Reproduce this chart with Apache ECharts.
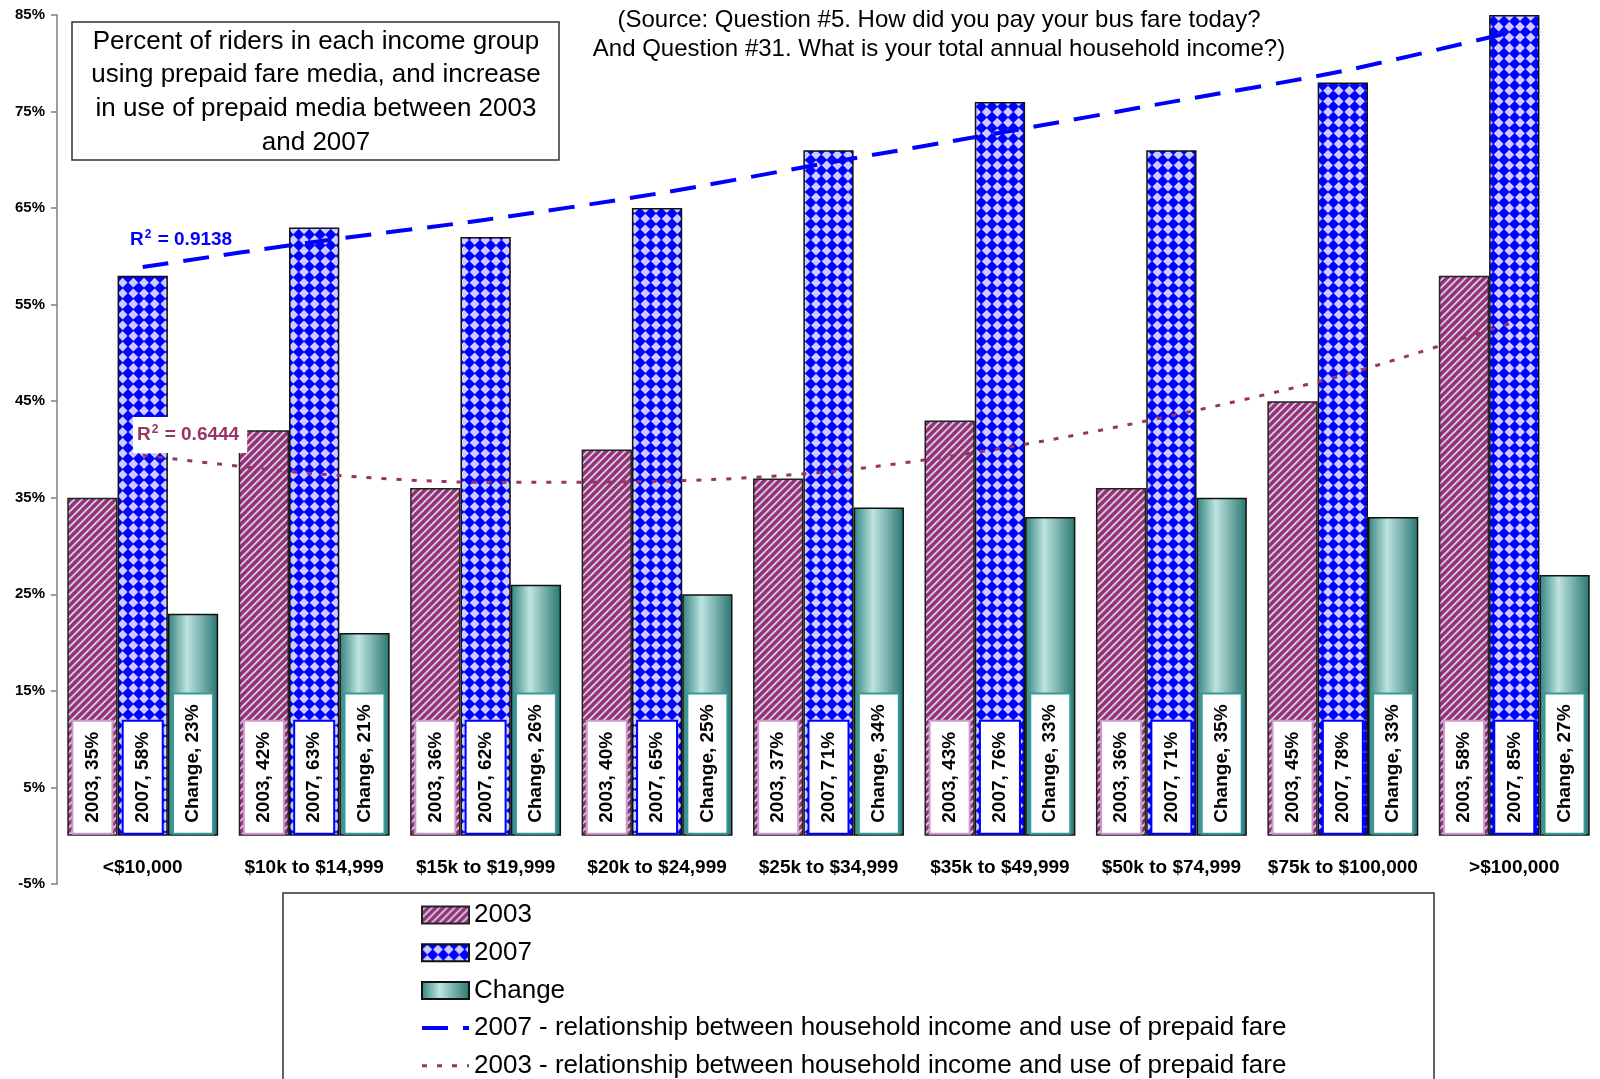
<!DOCTYPE html>
<html>
<head>
<meta charset="utf-8">
<script src="https://cdn.jsdelivr.net/npm/echarts@6/dist/echarts.min.js"></script>
<style>
  html, body { margin: 0; padding: 0; background: #fff; }
  #chart { width: 1600px; height: 1079px; }
</style>
</head>
<body>
<div id="chart"></div>
<script>
// Income groups and prepaid fare media share (percent)
const categories = ['<$10,000', '$10k to $14,999', '$15k to $19,999', '$20k to $24,999',
  '$25k to $34,999', '$35k to $49,999', '$50k to $74,999', '$75k to $100,000', '>$100,000'];
const share2003 = [35, 42, 36, 40, 37, 43, 36, 45, 58];
const share2007 = [58, 63, 62, 65, 71, 76, 71, 78, 85];
const changeShare = [23, 21, 26, 25, 34, 33, 35, 33, 27];
// Fitted trend curves, read at each income group
const trend2007 = [58.9, 61.5, 63.8, 66.5, 69.7, 72.8, 76.0, 79.2, 83.3];
const trend2003 = [39.4, 37.5, 36.6, 36.7, 37.7, 40.1, 43.5, 47.7, 53.2];
const r2Text2007 = '0.9138';
const r2Text2003 = '0.6444';
const axisMin = -5, axisMax = 85, axisStep = 10;

const seriesNames = ['2003', '2007', 'Change',
  '2007 - relationship between household income and use of prepaid fare',
  '2003 - relationship between household income and use of prepaid fare'];

const FONT = '"Liberation Sans", Arial, sans-serif';
const MAUVE = '#993366', LAVENDER = '#ccccff', BLUE = '#0000ff';

// Plot area geometry
const GRID_TOP = 15, GRID_BOTTOM = 195, GRID_HEIGHT = 1079 - GRID_TOP - GRID_BOTTOM;
// lift the category labels from the plot bottom up to the zero line
const zeroLift = (0 - axisMin) / (axisMax - axisMin) * GRID_HEIGHT;

const line2007Style = { color: BLUE, width: 4, type: [26, 15] };
const line2003Style = { color: MAUVE, width: 3, type: [5, 10] };

// Diagonal stripe fill for the 2003 bars
function stripePattern() {
  const s = 15, step = 7.5;
  const c = document.createElement('canvas');
  c.width = s; c.height = s;
  const g = c.getContext('2d');
  g.fillStyle = LAVENDER; g.fillRect(0, 0, s, s);
  g.strokeStyle = MAUVE; g.lineWidth = 3.4;
  for (let k = 0; k <= 4; k++) {
    const o = k * step;
    g.beginPath();
    g.moveTo(o + 3, -3);
    g.lineTo(o - s - 3, s + 3);
    g.stroke();
  }
  return c;
}

// Diamond fill for the 2007 bars
function diamondPattern() {
  const s = 32, n = 3, p = s / n, r = p * 0.46;
  const c = document.createElement('canvas');
  c.width = s; c.height = s;
  const g = c.getContext('2d');
  g.fillStyle = BLUE; g.fillRect(0, 0, s, s);
  g.fillStyle = LAVENDER;
  for (let i = 0; i < n; i++) {
    for (let j = 0; j < n; j++) {
      const cx = (i + 0.5) * p, cy = (j + 0.5) * p;
      g.beginPath();
      g.moveTo(cx, cy - r); g.lineTo(cx + r, cy); g.lineTo(cx, cy + r); g.lineTo(cx - r, cy);
      g.closePath(); g.fill();
    }
  }
  return c;
}

const tealGradient = {
  type: 'linear', x: 0, y: 0, x2: 1, y2: 0,
  colorStops: [
    { offset: 0, color: '#2f817c' },
    { offset: 0.38, color: '#bfe4e0' },
    { offset: 1, color: '#277570' }
  ]
};

function barLabel(border) {
  return {
    show: true,
    position: 'insideBottom',
    distance: 3,
    rotate: 90,
    align: 'left',
    verticalAlign: 'middle',
    formatter: '{a}, {c}%',
    fontFamily: FONT,
    fontSize: 19,
    fontWeight: 'bold',
    color: '#000',
    lineHeight: 22,
    backgroundColor: '#fff',
    borderColor: border,
    borderWidth: 2,
    padding: [8, 10, 8, 10]
  };
}

const chart = echarts.init(document.getElementById('chart'), null, { renderer: 'canvas' });

const barWidth = 50.3;

chart.setOption({
  animation: false,
  backgroundColor: '#fff',
  grid: { left: 57, top: GRID_TOP, bottom: GRID_BOTTOM, width: 1546, containLabel: false },
  xAxis: {
    type: 'category',
    data: categories,
    offset: -zeroLift,
    axisLine: { show: false, onZero: false },
    axisTick: { show: false },
    axisLabel: {
      margin: 23, interval: 0,
      fontFamily: FONT, fontSize: 19, fontWeight: 'bold', color: '#000'
    },
    splitLine: { show: false }
  },
  yAxis: {
    type: 'value',
    min: axisMin, max: axisMax, interval: axisStep,
    axisLine: { show: true, lineStyle: { color: '#808080', width: 1.5 } },
    axisTick: { show: true, length: 6, lineStyle: { color: '#808080', width: 1.5 } },
    axisLabel: {
      margin: 12, formatter: '{value}%',
      fontFamily: FONT, fontSize: 15, fontWeight: 'bold', color: '#000'
    },
    splitLine: { show: false }
  },
  legend: {
    orient: 'vertical',
    left: 420, top: 902,
    height: 300,
    padding: 0,
    itemWidth: 47, itemHeight: 17, itemGap: 11.7,
    selectedMode: false,
    textStyle: { fontFamily: FONT, fontSize: 26, color: '#000', lineHeight: 24 },
    data: [
      { name: seriesNames[0], icon: 'rect' },
      { name: seriesNames[1], icon: 'rect' },
      { name: seriesNames[2], icon: 'rect' },
      { name: seriesNames[3], itemStyle: { opacity: 0 }, lineStyle: line2007Style },
      { name: seriesNames[4], itemStyle: { opacity: 0 }, lineStyle: line2003Style }
    ]
  },
  series: [
    {
      name: seriesNames[0], type: 'bar', data: share2003,
      barWidth: barWidth, barGap: '0%',
      itemStyle: { color: { image: stripePattern(), repeat: 'repeat' }, borderColor: '#222', borderWidth: 1.5 },
      label: barLabel('#cc99cc')
    },
    {
      name: seriesNames[1], type: 'bar', data: share2007,
      barWidth: barWidth, barGap: '0%',
      itemStyle: { color: { image: diamondPattern(), repeat: 'repeat' }, borderColor: '#111', borderWidth: 1.5 },
      label: barLabel(BLUE)
    },
    {
      name: seriesNames[2], type: 'bar', data: changeShare,
      barWidth: barWidth, barGap: '0%',
      itemStyle: { color: tealGradient, borderColor: '#111', borderWidth: 1.5 },
      label: barLabel('#339999')
    },
    {
      name: seriesNames[3], type: 'line', data: trend2007,
      smooth: 0.3, symbol: 'none', z: 5,
      lineStyle: line2007Style,
      itemStyle: { color: BLUE }
    },
    {
      name: seriesNames[4], type: 'line', data: trend2003,
      smooth: 0.3, symbol: 'none', z: 5,
      lineStyle: line2003Style,
      itemStyle: { color: MAUVE }
    }
  ],
  graphic: [
    // heading box
    {
      type: 'rect', z: 10,
      shape: { x: 72, y: 22, width: 487, height: 138 },
      style: { fill: '#fff', stroke: '#333', lineWidth: 1.5 }
    },
    {
      type: 'text', z: 11,
      style: {
        x: 316, y: 92,
        text: 'Percent of riders in each income group\nusing prepaid fare media, and increase\nin use of prepaid media between 2003\nand 2007',
        align: 'center', verticalAlign: 'middle',
        font: '26px ' + FONT, lineHeight: 33.7, fill: '#000'
      }
    },
    // source note
    {
      type: 'text', z: 11,
      style: {
        x: 939, y: 35,
        text: '(Source: Question #5. How did you pay your bus fare today?\nAnd Question #31. What is your total annual household income?)',
        align: 'center', verticalAlign: 'middle',
        font: '24px ' + FONT, lineHeight: 29.6, fill: '#000'
      }
    },
    // trend fit labels
    {
      type: 'text', z: 20,
      style: {
        x: 130, y: 240,
        text: '{a|R}{s|2}{a| = ' + r2Text2007 + '}',
        align: 'left', verticalAlign: 'middle',
        rich: {
          a: { fontFamily: FONT, fontSize: 19, fontWeight: 'bold', fill: BLUE },
          s: { fontFamily: FONT, fontSize: 12, fontWeight: 'bold', fill: BLUE, padding: [0, 1, 10, 1] }
        }
      }
    },
    {
      type: 'text', z: 20,
      style: {
        x: 133, y: 435,
        text: '{a|R}{s|2}{a| = ' + r2Text2003 + '}',
        align: 'left', verticalAlign: 'middle',
        backgroundColor: '#fff',
        padding: [7, 8, 7, 4],
        rich: {
          a: { fontFamily: FONT, fontSize: 19, fontWeight: 'bold', fill: MAUVE },
          s: { fontFamily: FONT, fontSize: 12, fontWeight: 'bold', fill: MAUVE, padding: [0, 1, 10, 1] }
        }
      }
    },
    // legend frame
    {
      type: 'rect', z: 0,
      shape: { x: 283, y: 893, width: 1151, height: 260 },
      style: { fill: null, stroke: '#333', lineWidth: 1.5 }
    }
  ]
});
</script>
</body>
</html>
